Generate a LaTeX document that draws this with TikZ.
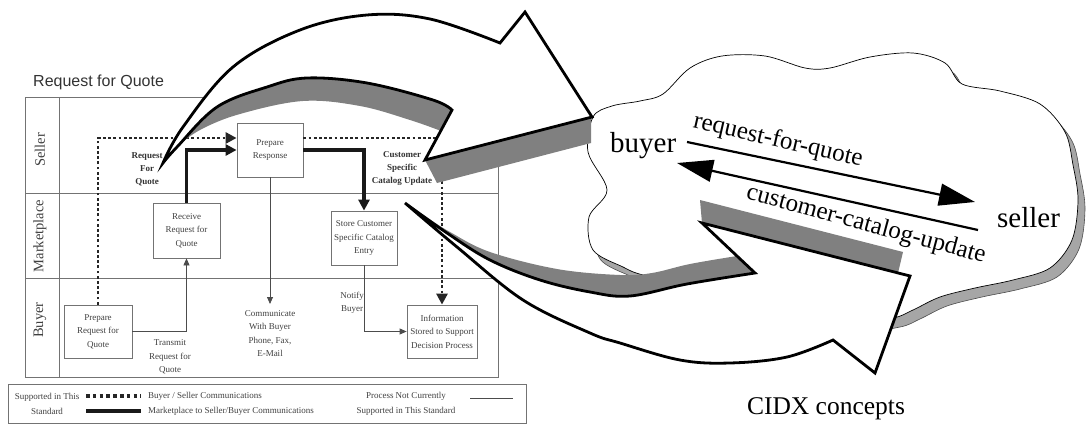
\documentclass[tikz,border=0pt]{standalone}
\usepackage{fontspec}
\setmainfont{Liberation Serif}
\newfontfamily\arialfont{Liberation Sans}
\usetikzlibrary{arrows.meta,calc}

\begin{document}
\begin{tikzpicture}[x=1pt,y=-1pt,
  frame/.style={draw=black!55, line width=0.9pt},
  box/.style={draw=black!55, line width=0.8pt, minimum width=66pt, minimum height=54pt,
    inner sep=0pt, align=center, font=\fontsize{9}{13.5}\selectfont, text=black!75},
  lbl/.style={align=center, inner sep=0pt, font=\fontsize{9}{13.5}\selectfont, text=black!75},
  boldlbl/.style={align=center, inner sep=0pt, font=\bfseries\fontsize{9}{13}\selectfont, text=black!80},
  lane/.style={rotate=90, inner sep=0pt, font=\fontsize{14.5}{16}\selectfont, text=black!75},
  legtext/.style={inner sep=0pt, font=\fontsize{9}{15}\selectfont, text=black!75},
  bsdots/.style={line width=2.8pt, dash pattern=on 2.8pt off 2.4pt, draw=black!85,
    -{Triangle[length=11pt,width=11pt]}},
  msthick/.style={line width=3.2pt, draw=black!90, -{Triangle[length=11pt,width=11pt]}},
  thinflow/.style={line width=0.8pt, draw=black!70, -{Triangle[length=7pt,width=6pt]}},
  bigarrow/.style={draw=black, line width=2.8pt, fill=white, line join=miter},
  ribbon/.style={fill=black!50},
  cloudtext/.style={inner sep=0pt, font=\fontsize{29}{32}\selectfont},
  msgtext/.style={inner sep=0pt, font=\fontsize{25}{28}\selectfont},
  msgline/.style={line width=2.2pt, -{Triangle[length=36pt,width=22pt]}}
]
\useasboundingbox (0,0) rectangle (1086,425);

% ---------- Request for Quote process ----------
\node[anchor=base west, inner sep=0pt, font=\arialfont\fontsize{16}{18}\selectfont, text=black!80]
  (title) at (33,87) {Request for Quote};

\draw[frame] (25,97) rectangle (498,377);
\draw[frame] (59,97) -- (59,377);
\draw[frame] (25,193) -- (498,193);
\draw[frame] (25,278) -- (498,278);

\node[lane] (lseller) at (40,150) {Seller};
\node[lane] (lmarket) at (40,236) {Marketplace};
\node[lane] (lbuyer) at (40,320) {Buyer};

\node[box, minimum width=68pt, minimum height=53pt] (prq) at (98,331.5) {Prepare\\Request for\\Quote};
\node[box, minimum width=67pt, minimum height=55pt] (rr) at (186.5,230.5) {Receive\\Request for\\Quote};
\node[box] (pr) at (270,150) {Prepare\\Response};
\node[box] (scs) at (364,238) {Store Customer\\Specific Catalog\\Entry};
\node[box, minimum width=70pt, minimum height=53pt] (info) at (442,331.5) {Information\\Stored to Support\\Decision Process};

\node[boldlbl] (rfqlbl) at (147,169) {Request\\For\\Quote};
\node[boldlbl] (csulbl) at (402,169) {Customer\\Specific\\Catalog Update};
\node[lbl] (transmit) at (170,357) {Transmit\\Request for\\Quote};
\node[lbl] (notify) at (352,303) {Notify\\Buyer};
\node[lbl, anchor=north] (comm) at (270,310) {Communicate\\With Buyer\\Phone, Fax,\\E-Mail};

% flows
\draw[bsdots] (prq.north) |- ($(pr.west)+(0,-12)$);
\draw[msthick] (rr.north) |- (pr.west);
\draw[thinflow] (prq.east) -| (rr.south);
\draw[bsdots] ($(pr.east)+(0,-12)$) -| (info.north);
\draw[msthick] (pr.east) -| (scs.north);
\draw[thinflow] (pr.south) -- ($(pr.south |- comm.north)+(0,-6)$);
\draw[thinflow] (scs.south) |- (info.west);

% legend
\draw[frame] (8,384) rectangle (526,423.5);
\node[legtext, align=center] (legsup) at (47,403.5) {Supported in This\\Standard};
\draw[line width=3.6pt, dash pattern=on 3.6pt off 3.2pt, black!85] (86,396) -- (141,396);
\draw[line width=4pt, black!90] (86,411) -- (141,411);
\node[legtext, anchor=west] (legbs) at (148,396) {Buyer / Seller Communications};
\node[legtext, anchor=west] (legms) at (148,411) {Marketplace to Seller/Buyer Communications};
\node[legtext, align=center] (legnot) at (406,403.5) {Process Not Currently\\Supported in This Standard};
\draw[line width=0.8pt, black!70] (470,398) -- (513,398);

% ---------- CIDX cloud ----------
\begin{scope}[shift={(7,9)}]
\filldraw[fill=black!35, draw=black!70, line width=0.6pt]
  plot[smooth cycle, tension=0.55] coordinates {
  (593,117) (612,106) (640,101) (663,94) (690,68) (722,56) (765,56) (805,68) (830,68)
  (870,57) (913,53) (945,63) (962,84) (1000,91) (1040,104) (1065,132) (1073,165)
  (1078,200) (1072,240) (1050,268) (1013,280) (975,288) (940,297) (913,310) (893,318)
  (850,322) (780,305) (700,288) (643,275) (623,267) (593,250) (589,217) (607,190) (588,152)};
\end{scope}
\filldraw[fill=white, draw=black, line width=0.7pt]
  plot[smooth cycle, tension=0.55] coordinates {
  (593,117) (612,106) (640,101) (663,94) (690,68) (722,56) (765,56) (805,68) (830,68)
  (870,57) (913,53) (945,63) (962,84) (1000,91) (1040,104) (1065,132) (1073,165)
  (1078,200) (1072,240) (1050,268) (1013,280) (975,288) (940,297) (913,310) (893,318)
  (850,322) (780,305) (700,288) (643,275) (623,267) (593,250) (589,217) (607,190) (588,152)};

% ---------- ribbon arrows ----------
\fill[ribbon] plot[smooth, tension=0.6] coordinates {(163,163) (176,148) (200,130) (240,114)
  (303,101) (360,106) (410,120) (441,131)} -- (425,160) -- (437,183) -- (591,143) -- (591,117)
  -- (452,110) -- plot[smooth, tension=0.6] coordinates {(452,110) (433,100) (367,83) (307,78)
  (267,87) (217,107) (177,147) (163,163)} -- cycle;
\draw[bigarrow] plot[smooth, tension=0.6] coordinates {(163,163) (183,127) (233,67) (300,30)
  (367,15) (430,19) (500,43)} -- (525,12) -- (592,117) -- (425,160) -- (452,110)
  -- plot[smooth, tension=0.6] coordinates {(452,110) (433,100) (367,83) (307,78) (267,87)
  (217,107) (177,147) (163,163)} -- cycle;

\fill[ribbon] plot[smooth, tension=0.6] coordinates {(405,203) (425,216) (450,232) (490,252)
  (557,269) (620,275) (652,273) (690,264) (737,256)} -- (755,273)
  -- plot[smooth, tension=0.6] coordinates {(755,273) (687,284) (630,296) (590,292) (540,280)
  (490,260) (447,233) (405,203)} -- cycle;
\fill[ribbon] (700,200) -- (903,252) -- (898,273) -- (702,223) -- cycle;
\draw[bigarrow] plot[smooth, tension=0.6] coordinates {(405,203) (447,233) (490,260) (540,280)
  (590,292) (630,296) (687,284) (755,273)} -- (702,223) -- (910,276) -- (875,373) -- (833,340)
  -- plot[smooth, tension=0.6] coordinates {(833,340) (787,357) (730,363) (680,360) (620,343)
  (590,333) (523,300) (457,247) (405,203)} -- cycle;

% ---------- cloud content ----------
\node[cloudtext, anchor=base west] (buyer) at (610,152) {buyer};
\node[cloudtext, anchor=base west] (seller) at (997,227) {seller};
\coordinate (rqstart) at (687,142);
\coordinate (rqend) at (975,202);
\coordinate (ccstart) at (978,230);
\coordinate (ccend) at (677,163);
\draw[msgline] (rqstart) -- (rqend);
\draw[msgline] (ccstart) -- (ccend);
\node[msgtext, rotate=-13] (rqtext) at (778,141) {request-for-quote};
\node[msgtext, rotate=-15] (cctext) at (866,225) {customer-catalog-update};
\node[inner sep=0pt, font=\fontsize{25.5}{28}\selectfont, anchor=base] (cidx) at (826,414) {CIDX concepts};
\end{tikzpicture}
\end{document}
